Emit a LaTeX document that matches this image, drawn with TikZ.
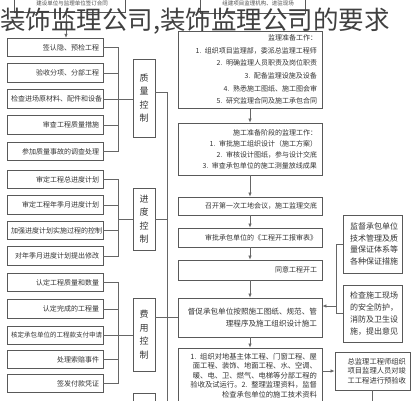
\documentclass[tikz,border=0pt]{standalone}
\usepackage{fontspec}
\setmainfont{Noto Sans CJK SC}
\usetikzlibrary{arrows.meta}

\begin{document}
\begin{tikzpicture}[x=1pt, y=-1pt,
    leftbox/.style={rectangle, draw=black!65, line width=0.8pt, minimum width=96pt,
        minimum height=18.5pt, inner xsep=4pt, inner ysep=0pt, text width=88pt,
        align=right, text=black!80, font=\fontsize{7}{8}\selectfont},
    ctrlbox/.style={rectangle, draw=black!65, line width=0.8pt, minimum width=22pt,
        inner sep=0pt, align=center, text=black!80, font=\fontsize{9}{13.5}\selectfont},
    mainbox/.style={rectangle, draw=black!65, line width=0.8pt, minimum width=144pt,
        inner xsep=5pt, inner ysep=1pt, text width=134pt, align=right, text=black!80,
        font=\fontsize{7}{8}\selectfont},
    sidebox/.style={rectangle, draw=black!65, line width=0.8pt, minimum width=59pt,
        inner xsep=4pt, inner ysep=1pt, text width=51pt, align=right, text=black!80,
        font=\fontsize{8}{11.8}\selectfont},
    link/.style={draw=black!60, line width=0.7pt},
    flow/.style={link, -{Latex[length=4pt,width=3.5pt]}}
]
\useasboundingbox (0,0) rectangle (414,400);
\clip (0,0) rectangle (414,400);

\node (Top01) [leftbox, minimum width=111pt, text width=103pt, minimum height=24pt] at (69.5,0) {};
\node (Top02) [leftbox, minimum width=105pt, text width=97pt, minimum height=26pt] at (252.5,0) {};
\node (Top01Text) [text=black!70, font=\fontsize{5.5}{6}\selectfont, inner sep=0pt] at (72,3.2) {建设单位与监理单位签订合同};
\node (Top02Text) [text=black!70, font=\fontsize{5.5}{6}\selectfont, inner sep=0pt] at (258,3.2) {组建项目监理机构、进驻现场};

\node (Left01) [leftbox] at (55,47.5) {签认隐、预检工程};
\node (Left02) [leftbox] at (55,73) {验收分项、分部工程};
\node (Left03) [leftbox] at (55,99) {检查进场原材料、配件和设备};
\node (Left04) [leftbox] at (55,125) {审查工程质量措施};
\node (Left05) [leftbox] at (55,151.5) {参加质量事故的调查处理};
\node (Left06) [leftbox] at (55,179.5) {审定工程总进度计划};
\node (Left07) [leftbox] at (55,205) {审定工程年季月进度计划};
\node (Left08) [leftbox] at (55,230.5) {加强进度计划实施过程的控制};
\node (Left09) [leftbox] at (55,256) {对年季月进度计划提出修改};
\node (Left10) [leftbox] at (55,282.5) {认定工程质量和数量};
\node (Left11) [leftbox] at (55,309) {认定完成的工程量};
\node (Left12) [leftbox, font=\fontsize{6.5}{8}\selectfont] at (55,335.5) {核定承包单位的工程款支付申请};
\node (Left13) [leftbox] at (55,359.5) {处理索赔事件};
\node (Left14) [leftbox] at (55,383.5) {签发付款凭证};

\node (Quality) [ctrlbox, minimum height=78pt] at (144,98) {质\\量\\控\\制};
\node (Schedule) [ctrlbox, minimum height=62pt] at (144,219) {进\\度\\控\\制};
\node (Cost) [ctrlbox, minimum height=73pt] at (144,334.5) {费\\用\\控\\制};
\node (Contract) [ctrlbox, minimum height=60pt] at (144,423) {};

\node (Main01) [mainbox, minimum height=77pt, font=\fontsize{7}{12.6}\selectfont] at (250,69.5)
  {监理准备工作：\\
   1. 组织项目监理部，委派总监理工程师\\
   2. 明确监理人员职责及岗位职责\\
   3. 配备监理设施及设备\\
   4. 熟悉施工图纸、施工图会审\\
   5. 研究监理合同及施工承包合同};
\node (Main02) [mainbox, minimum height=52pt, font=\fontsize{7}{11}\selectfont] at (250,149)
  {施工准备阶段的监理工作：\\
   1. 审批施工组织设计（施工方案）\\
   2. 审核设计图纸，参与设计交底\\
   3. 审查承包单位的施工测量放线成果};
\node (Main03) [mainbox, minimum height=18pt] at (250,206) {召开第一次工地会议，施工监理交底};
\node (Main04) [mainbox, minimum height=19pt] at (250,237.5) {审批承包单位的《工程开工报审表》};
\node (Main05) [mainbox, minimum height=20pt] at (250,270) {同意工程开工};
\node (Main06) [mainbox, minimum height=39pt, font=\fontsize{7.6}{12}\selectfont] at (250,317.5)
  {督促承包单位按照施工图纸、规范、管\\理程序及施工组织设计施工};
\node (Main07) [mainbox, minimum height=55pt, font=\fontsize{7.3}{9.5}\selectfont] at (250,375.5)
  {1. 组织对地基主体工程、门窗工程、屋\\
   面工程、装饰、地面工程、水、空调、\\
   暖、电、卫、燃气、电梯等分部工程的\\
   验收及试运行。2. 整理监理资料，监督\\
   检查承包单位的施工技术资料};

\node (Side01) [sidebox, minimum height=58pt] at (372.5,244)
  {监督承包单位\\技术管理及质\\量保证体系等\\各种保证措施};
\node (Side02) [sidebox, minimum height=57pt] at (372.5,313.5)
  {检查施工现场\\的安全防护，\\消防及卫生设\\施，提出意见};
\node (Side03) [sidebox, minimum width=75pt, text width=67pt, minimum height=38pt,
  font=\fontsize{7.3}{9.6}\selectfont] at (372.5,371)
  {总监理工程师组织\\项目监理人员对竣\\工工程进行预验收};

\draw[flow] (Top01.south -| 66,0) -- (Left01.north -| 66,0);

\draw[link] (Left01.east) -- ++(15,0) |- (Left05.east);
\draw[link] (Left02.east) -- ++(15,0);
\draw[link] (Left03.east) -- (Left03.east -| Quality.west);
\draw[link] (Left04.east) -- ++(15,0);

\draw[link] (Left06.east) -- ++(15,0) |- (Left09.east);
\draw[link] (Left07.east) -- ++(15,0);
\draw[link] (Left08.east) -- ++(15,0);
\draw[link] (Schedule.west) -- ++(-15,0);

\draw[link] (Left10.east) -- ++(15,0) |- (Left14.east);
\draw[link] (Left11.east) -- ++(15,0);
\draw[link] (Left12.east) -- (Left12.east -| Cost.west);
\draw[link] (Left13.east) -- ++(15,0);

\coordinate (TrunkTop) at (167,92);
\coordinate (TrunkEnd) at (167,404);
\draw[link] (TrunkTop -| Quality.east) -- (TrunkTop) -- (TrunkEnd);
\draw[link] (Schedule.east) -- (Schedule.east -| TrunkTop);
\draw[link] (Cost.east |- Main06) -- (Main06.west);

\draw[flow] (Main01) -- (Main02);
\draw[flow] (Main02) -- (Main03);
\draw[flow] (Main03) -- (Main04);
\draw[flow] (Main04) -- (Main05);
\draw[flow] (Main05) -- (Main06);
\draw[flow] (Main06) -- (Main07);

\coordinate (SideJoin) at (336,306);
\draw[link] (Side01.west) -- (Side01.west -| SideJoin) |- (Side02.west);
\draw[flow] (SideJoin) -- (SideJoin -| Main06.east);
\draw[flow] (Side03.west -| Main07.east) -- (Side03.west);
\coordinate (SideOut) at (372.5,406);
\draw[flow] (Side03.south) -- (SideOut);

\node (Title) [anchor=west, inner sep=0pt, text=black!75, font=\fontsize{25.5}{25.5}\selectfont] at (0,21)
  {装饰监理公司,装饰监理公司的要求};
\end{tikzpicture}
\end{document}
